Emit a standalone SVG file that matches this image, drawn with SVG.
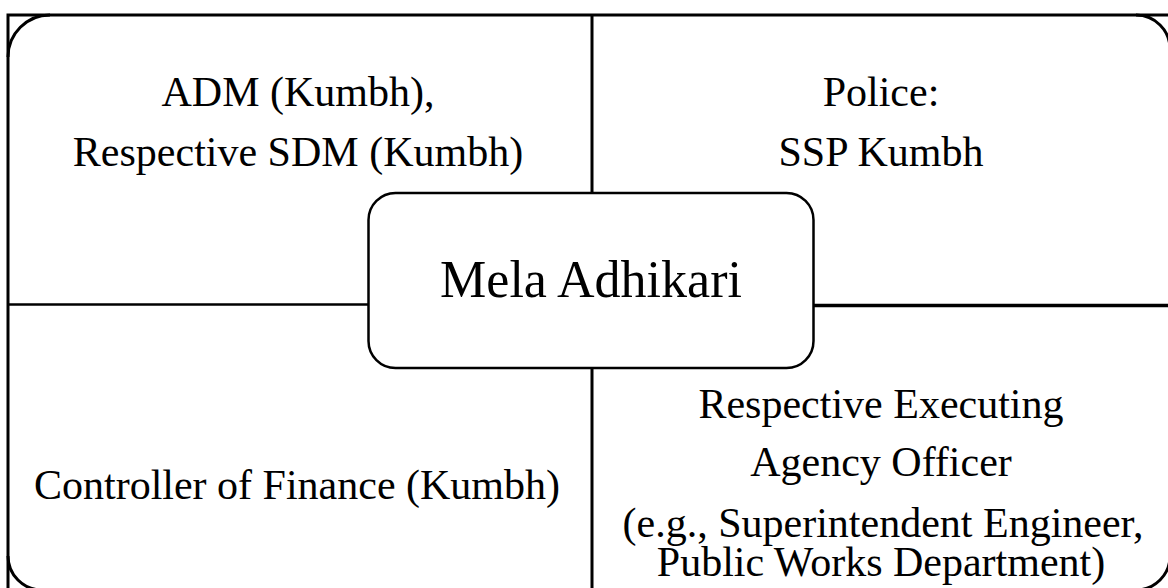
<svg xmlns="http://www.w3.org/2000/svg" width="1168" height="588" viewBox="0 0 1168 588">
  <style>
    .ln { fill: none; stroke: #000; stroke-width: 3; }
    .t { font-size: 42px; fill: #000; text-anchor: middle; }
    .big { font-size: 52px; }
  </style>
  <rect x="0" y="0" width="1168" height="588" fill="#fff"/>
  <g id="frame">
    <rect class="ln" x="8" y="15" width="1162" height="575"/>
  </g>
  <g id="connectors">
    <line class="ln" x1="592" y1="15" x2="592" y2="590"/>
    <line class="ln" x1="8" y1="304.5" x2="368" y2="304.5" style="stroke-width:2.5"/>
    <line class="ln" x1="814" y1="305.5" x2="1170" y2="305.5" style="stroke-width:3.5"/>
  </g>
  <g font-family="Liberation Serif, DejaVu Serif, serif">
  <g id="node-top-left">
    <path class="ln" d="M 8 57 A 42 42 0 0 1 50 15"/>
    <text class="t" x="298" y="106">ADM (Kumbh),</text>
    <text class="t" x="298" y="166">Respective SDM (Kumbh)</text>
  </g>
  <g id="node-top-right">
    <path class="ln" d="M 1136 15 A 34 34 0 0 1 1170 49"/>
    <text class="t" x="881" y="106">Police:</text>
    <text class="t" x="881" y="166">SSP Kumbh</text>
  </g>
  <g id="node-bottom-left">
    <path class="ln" d="M 42 590 A 34 34 0 0 1 8 556"/>
    <text class="t" x="297" y="499">Controller of Finance (Kumbh)</text>
  </g>
  <g id="node-bottom-right">
    <path class="ln" d="M 1170 556 A 34 34 0 0 1 1136 590"/>
    <text class="t" x="881" y="418">Respective Executing</text>
    <text class="t" x="881" y="476">Agency Officer</text>
    <text class="t" x="883" y="537">(e.g., Superintendent Engineer,</text>
    <text class="t" x="881" y="576">Public Works Department)</text>
  </g>
  <g id="node-center">
    <rect class="ln" x="368.5" y="193" width="445" height="175" rx="27" ry="27" style="fill:#fff;stroke-width:2.5"/>
    <text class="t big" x="591" y="297">Mela Adhikari</text>
  </g>
  </g>
</svg>
